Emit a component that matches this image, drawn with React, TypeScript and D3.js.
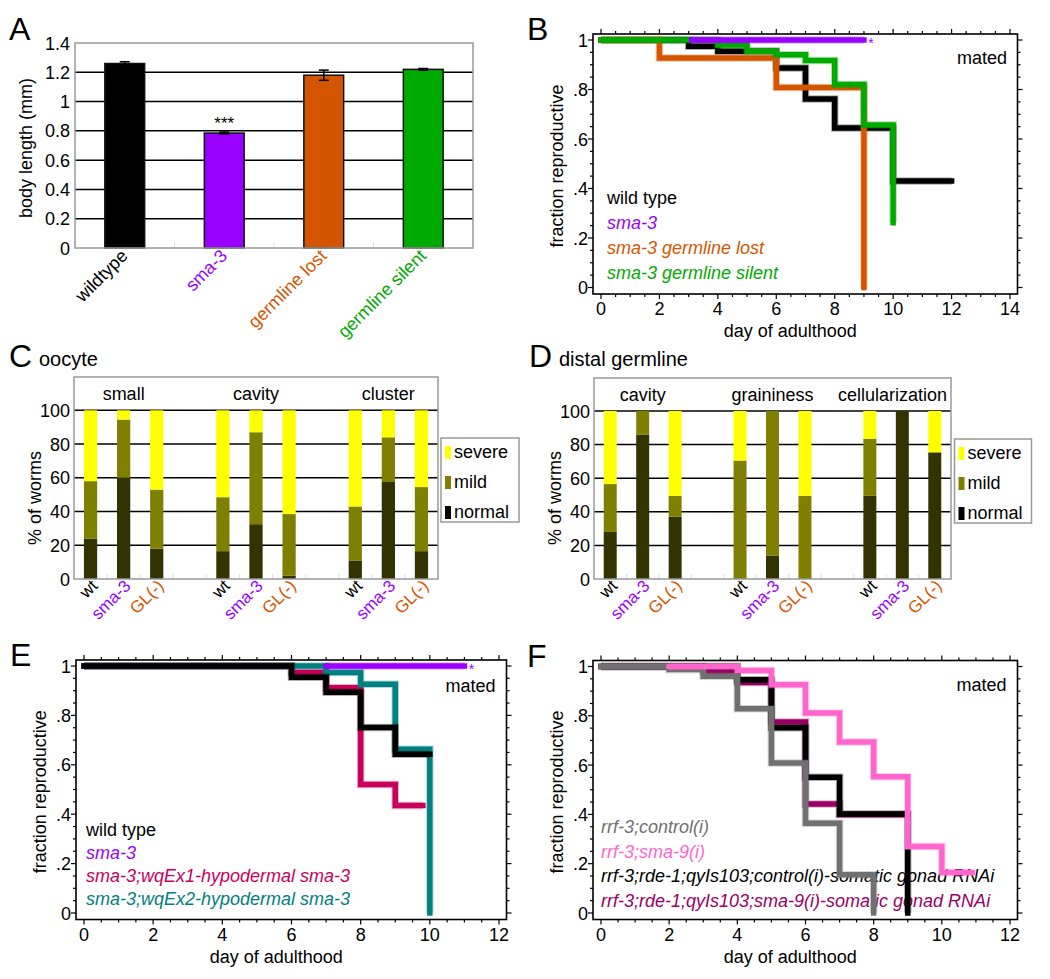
import React, { useEffect, useRef } from 'react';
import * as d3 from 'd3';

type Pt = [number, number];

const FONT = '"Liberation Sans", Arial, Helvetica, sans-serif';

// A: body length
const bodyGenotypes = ['wildtype', 'sma-3', 'germline lost', 'germline silent'];
const bodyLength = [1.26, 0.785, 1.18, 1.22];
const bodyLengthErr = [0.012, 0.006, 0.035, 0.006];
const bodyColors = ['#000000', '#9900ff', '#d45500', '#00aa00'];
const bodyTicks = [0, 0.2, 0.4, 0.6, 0.8, 1, 1.2, 1.4];

// C / D: scored phenotypes (% of worms)
const scoredGenotypes = ['wt', 'sma-3', 'GL(-)'];
const scoredColors = ['#000000', '#9900ff', '#d45500'];
const phenotypes = ['normal', 'mild', 'severe'];
const phenotypeColors = ['#333300', '#808000', '#ffff00'];
const percentTicks = [0, 20, 40, 60, 80, 100];

const oocyteGroups = ['small', 'cavity', 'cluster'];
const oocyteNormal = [24, 60, 18, 16.5, 32.5, 2, 11, 57.5, 16.5];
const oocyteMild = [34, 34.5, 35, 32, 54.5, 36.5, 32, 26.5, 38];
const oocyteSevere = [42, 5.5, 47, 51.5, 13, 61.5, 57, 16, 45.5];

const germlineGroups = ['cavity', 'graininess', 'cellularization'];
const germlineNormal = [28, 86, 37, 0, 14, 0, 49.5, 100, 75];
const germlineMild = [28.5, 14, 12.5, 70.5, 86, 49.5, 34, 0, 0.5];
const germlineSevere = [43.5, 0, 50.5, 29.5, 0, 50.5, 16.5, 0, 24.5];

// B: fraction reproductive, mated
const bWildType: Pt[] = [[0, 1], [3, 0.975], [4, 0.955], [6, 0.887], [7, 0.762], [8, 0.644], [10, 0.43], [12, 0.43]];
const bSma3: Pt[] = [[3.1, 1], [9, 1]];
const bGermlineLost: Pt[] = [[0, 1], [2, 0.927], [6, 0.808], [9, 0]];
const bGermlineSilent: Pt[] = [[0, 1], [4, 0.98], [5, 0.955], [6, 0.94], [7, 0.917], [8, 0.82], [9, 0.657], [10, 0.262]];

// E
const eWildType: Pt[] = [[0, 1], [6, 0.954], [7, 0.894], [8, 0.751], [9, 0.643], [10, 0.643]];
const eSma3: Pt[] = [[7, 1], [11, 1]];
const eWqEx1: Pt[] = [[0, 1], [6, 0.974], [7, 0.912], [8, 0.52], [9, 0.435], [9.8, 0.435]];
const eWqEx2: Pt[] = [[0, 1], [7, 0.974], [8, 0.926], [9, 0.663], [10, 0]];

// F
const fControl: Pt[] = [[0, 1], [2, 0.988], [3, 0.96], [4, 0.829], [5, 0.609], [6, 0.364], [7, 0.155], [8, 0]];
const fSma9: Pt[] = [[2, 1], [4, 0.984], [5, 0.926], [6, 0.811], [7, 0.694], [8, 0.553], [9, 0.27], [10, 0.164], [10.9, 0.164]];
const fGonadControl: Pt[] = [[0, 1], [4, 0.946], [5, 0.752], [6, 0.551], [7, 0.402], [9, 0]];
const fGonadSma9: Pt[] = [[0, 1], [3, 0.98], [4, 0.935], [5, 0.775], [6, 0.442], [7, 0.4], [9, 0.4]];

interface Series { name: string; data: Pt[]; color: string; italic: boolean; }
interface Frame { l: number; t: number; r: number; b: number; }

const label = (g: any, s: string, x: number, y: number, size: number, anchor = 'start', fill = '#000', italic = false) =>
  g.append('text')
    .attr('x', x).attr('y', y)
    .attr('font-size', size)
    .attr('text-anchor', anchor)
    .attr('fill', fill)
    .attr('font-style', italic ? 'italic' : 'normal')
    .text(s);

const yTitle = (g: any, s: string, x: number, cy: number) =>
  g.append('text')
    .attr('transform', `translate(${x},${cy}) rotate(-90)`)
    .attr('text-anchor', 'middle')
    .attr('font-size', 18)
    .text(s);

function drawBodyLength(svg: any) {
  const f: Frame = { l: 75, t: 43, r: 473, b: 248 };
  const g = svg.append('g');
  const x = d3.scaleBand().domain(bodyGenotypes).range([f.l, f.r]).paddingInner(0.6).paddingOuter(0.3);
  const y = d3.scaleLinear().domain([0, 1.4]).range([f.b, f.t]);
  const bw = x.bandwidth();

  g.selectAll('line.grid').data(bodyTicks.filter(t => t > 0 && t < 1.4)).enter().append('line')
    .attr('x1', f.l).attr('x2', f.r)
    .attr('y1', (d: number) => y(d)).attr('y2', (d: number) => y(d))
    .attr('stroke', '#000').attr('stroke-width', 1.5);

  bodyGenotypes.slice(0, -1).forEach(d => {
    const bx = (x(d) as number) + bw / 2 + x.step() / 2;
    g.append('line').attr('x1', bx).attr('x2', bx).attr('y1', f.b - 5).attr('y2', f.b)
      .attr('stroke', '#ddd').attr('stroke-width', 1);
  });

  g.selectAll('rect.bar').data(bodyGenotypes).enter().append('rect')
    .attr('x', (d: string) => x(d))
    .attr('y', (_: string, i: number) => y(bodyLength[i]))
    .attr('width', bw)
    .attr('height', (_: string, i: number) => f.b - y(bodyLength[i]))
    .attr('fill', (_: string, i: number) => bodyColors[i])
    .attr('stroke', '#111').attr('stroke-width', 1.5);

  bodyGenotypes.forEach((d, i) => {
    const cx = (x(d) as number) + bw / 2;
    const lo = y(bodyLength[i] - bodyLengthErr[i]);
    const hi = y(bodyLength[i] + bodyLengthErr[i]);
    g.append('line').attr('x1', cx).attr('x2', cx).attr('y1', lo).attr('y2', hi).attr('stroke', '#000').attr('stroke-width', 1.5);
    [lo, hi].forEach(v => g.append('line').attr('x1', cx - 5).attr('x2', cx + 5).attr('y1', v).attr('y2', v)
      .attr('stroke', '#000').attr('stroke-width', 1.5));
    label(g, d, cx + 4, f.b + 9, 18, 'end', bodyColors[i])
      .attr('transform', `rotate(-45,${cx + 4},${f.b + 9})`);
  });

  const sx = (x('sma-3') as number) + bw / 2;
  label(g, '***', sx, y(bodyLength[1] + bodyLengthErr[1]) - 3, 17, 'middle');

  g.append('rect').attr('x', f.l).attr('y', f.t).attr('width', f.r - f.l).attr('height', f.b - f.t)
    .attr('fill', 'none').attr('stroke', '#999').attr('stroke-width', 1.5);

  bodyTicks.forEach(t => label(g, String(t), f.l - 5, y(t) + 6.5, 18, 'end'));
  yTitle(g, 'body length (mm)', 32, 148);
  label(g, 'A', 9, 40, 32);
}

function drawStacked(svg: any, f: Frame & { y100: number }, groups: string[], normal: number[], mild: number[],
  severe: number[], legendBox: [number, number, number, number], letter: string, title: string) {
  const g = svg.append('g');
  const slots: string[] = [];
  groups.forEach((grp, gi) => {
    if (gi > 0) slots.push('gap' + gi);
    scoredGenotypes.forEach(gt => slots.push(grp + '|' + gt));
  });
  const x = d3.scaleBand().domain(slots).range([f.l, f.r]).paddingInner(0.6).paddingOuter(0.3);
  const y = d3.scaleLinear().domain([0, 100]).range([f.b, f.y100]);
  const bw = x.bandwidth();

  const rows = groups.flatMap((grp, gi) => scoredGenotypes.map((gt, i) => ({
    slot: grp + '|' + gt,
    normal: normal[gi * 3 + i],
    mild: mild[gi * 3 + i],
    severe: severe[gi * 3 + i],
  })));

  percentTicks.filter(t => t > 0).forEach(t => g.append('line')
    .attr('x1', f.l).attr('x2', f.r).attr('y1', y(t)).attr('y2', y(t))
    .attr('stroke', '#000').attr('stroke-width', 1.5));

  slots.slice(0, -1).forEach(s => {
    const bx = (x(s) as number) + bw / 2 + x.step() / 2;
    g.append('line').attr('x1', bx).attr('x2', bx).attr('y1', f.b - 5).attr('y2', f.b)
      .attr('stroke', '#ddd').attr('stroke-width', 1);
  });

  const stacked = d3.stack<any>().keys(phenotypes)(rows);
  stacked.forEach((layer: any, li: number) => {
    g.selectAll(null).data(layer).enter().append('rect')
      .attr('x', (d: any) => x(d.data.slot))
      .attr('y', (d: any) => y(d[1]))
      .attr('width', bw)
      .attr('height', (d: any) => Math.max(0, y(d[0]) - y(d[1])))
      .attr('fill', phenotypeColors[li]);
  });

  g.append('rect').attr('x', f.l).attr('y', f.t).attr('width', f.r - f.l).attr('height', f.b - f.t)
    .attr('fill', 'none').attr('stroke', '#999').attr('stroke-width', 1.5);

  groups.forEach(grp => {
    const cx = (x(grp + '|sma-3') as number) + bw / 2;
    const t = label(g, grp, cx, f.t + 23, 18, 'middle');
    const w = (t.node() as SVGTextElement).getComputedTextLength();
    if (cx + w / 2 > f.r - 4) t.attr('x', f.r - 4 - w / 2);
  });

  rows.forEach(r => {
    const i = scoredGenotypes.indexOf(r.slot.split('|')[1]);
    const ax = (x(r.slot) as number) + bw / 2 + 8;
    const ay = f.b + 8;
    label(g, scoredGenotypes[i], ax, ay, 17, 'end', scoredColors[i])
      .attr('transform', `rotate(-45,${ax},${ay})`);
  });

  percentTicks.forEach(t => label(g, String(t), f.l - 4, y(t) + 6.5, 18, 'end'));

  const [lx, ly, lw, lh] = legendBox;
  g.append('rect').attr('x', lx).attr('y', ly).attr('width', lw).attr('height', lh)
    .attr('fill', '#fff').attr('stroke', '#999').attr('stroke-width', 1.5);
  const order = [2, 1, 0];
  order.forEach((pi, k) => {
    const base = ly + 20 + k * 30;
    g.append('rect').attr('x', lx + 4).attr('y', base - 12).attr('width', 6).attr('height', 13)
      .attr('fill', pi === 0 ? '#000' : phenotypeColors[pi]);
    label(g, phenotypes[pi], lx + 13, base, 18);
  });

  yTitle(g, '% of worms', f.l - 33, 498);
  label(g, letter, f.l - 65, 366.7, 32);
  label(g, title, f.l - 35, 366, 20);
}

function drawSurvival(svg: any, f: Frame, xMax: number, series: Series[], legend: Series[],
  legendX: number, legendY: number, legendDy: number, mated: Pt, star: Series | null, letter: string) {
  const g = svg.append('g');
  const x = d3.scaleLinear().domain([0, xMax]).range([f.l + 8, f.r - 7.5]);
  const y = d3.scaleLinear().domain([0, 1]).range([f.b - 6.5, f.t + 6]);

  const xTicks = d3.range(0, xMax + 1e-9, 0.5);
  const yTicks = d3.range(0, 1 + 1e-9, 0.05);
  xTicks.forEach(v => {
    const len = Math.abs(v % 2) < 1e-9 ? 5 : 3;
    [[f.b, f.b + len], [f.t, f.t - len]].forEach(([a, b]) => g.append('line')
      .attr('x1', x(v)).attr('x2', x(v)).attr('y1', a).attr('y2', b)
      .attr('stroke', '#000').attr('stroke-width', 1.2));
  });
  yTicks.forEach(v => {
    const major = Math.round(v * 100) % 20 === 0;
    const len = major ? 5 : 3;
    [[f.l, f.l - len], [f.r, f.r + len]].forEach(([a, b]) => g.append('line')
      .attr('x1', a).attr('x2', b).attr('y1', y(v)).attr('y2', y(v))
      .attr('stroke', '#000').attr('stroke-width', 1.2));
  });

  g.append('rect').attr('x', f.l).attr('y', f.t).attr('width', f.r - f.l).attr('height', f.b - f.t)
    .attr('fill', '#fff').attr('stroke', '#000').attr('stroke-width', 1.6);

  legend.forEach((s, i) => label(g, s.name, legendX, legendY + i * legendDy, 18, 'start', s.color, s.italic));

  const line = d3.line<Pt>().x(d => x(d[0])).y(d => y(d[1])).curve(d3.curveStepAfter);
  series.forEach(s => {
    g.append('path').attr('d', line(s.data)).attr('fill', 'none')
      .attr('stroke', s.color).attr('stroke-opacity', 0.3).attr('stroke-width', 7.5);
    g.append('path').attr('d', line(s.data)).attr('fill', 'none')
      .attr('stroke', s.color).attr('stroke-width', 5.5).attr('stroke-linecap', 'square');
  });

  if (star) {
    const last = star.data[star.data.length - 1];
    label(g, '*', x(last[0]) + 7, y(last[1]) + 8, 14, 'middle', star.color);
  }

  label(g, 'mated', mated[0], mated[1], 18, 'end');

  d3.range(0, xMax + 1e-9, 2).forEach(v => label(g, String(v), x(v), f.b + 21, 18, 'middle'));
  d3.range(0, 1 + 1e-9, 0.2).forEach(v => {
    const s = v < 1e-9 ? '0' : v > 0.999 ? '1' : '.' + Math.round(v * 10);
    label(g, s, f.l - 5, y(v) + 6.5, 18, 'end');
  });

  label(g, 'day of adulthood', (f.l + f.r) / 2 - 15, f.b + 43, 18, 'middle');
  yTitle(g, 'fraction reproductive', f.l - 30, (f.t + f.b) / 2 + 2);
  label(g, letter, f.l - 66, f.t + 6, 32);
}

const App = () => {
  const ref = useRef<SVGSVGElement>(null);

  useEffect(() => {
    const svg = d3.select(ref.current);
    svg.selectAll('*').remove();
    svg.attr('font-family', FONT);
    svg.append('rect').attr('width', 1050).attr('height', 979).attr('fill', '#fff');

    drawBodyLength(svg);

    const B: Series[] = [
      { name: 'wild type', data: bWildType, color: '#000000', italic: false },
      { name: 'sma-3', data: bSma3, color: '#9900ff', italic: true },
      { name: 'sma-3 germline lost', data: bGermlineLost, color: '#d45500', italic: true },
      { name: 'sma-3 germline silent', data: bGermlineSilent, color: '#00aa00', italic: true },
    ];
    drawSurvival(svg, { l: 593, t: 34, r: 1017.5, b: 294 }, 14, [B[0], B[2], B[3], B[1]], B,
      607, 204, 25, [1007, 64], B[1], 'B');

    drawStacked(svg, { l: 74, t: 377, r: 438, b: 579, y100: 410.3 }, oocyteGroups, oocyteNormal, oocyteMild,
      oocyteSevere, [441, 438, 78, 84], 'C', 'oocyte');
    drawStacked(svg, { l: 594, t: 378, r: 951, b: 579, y100: 411 }, germlineGroups, germlineNormal, germlineMild,
      germlineSevere, [954.5, 439, 77, 84], 'D', 'distal germline');

    const E: Series[] = [
      { name: 'wild type', data: eWildType, color: '#000000', italic: false },
      { name: 'sma-3', data: eSma3, color: '#9900ff', italic: true },
      { name: 'sma-3;wqEx1-hypodermal sma-3', data: eWqEx1, color: '#c8005a', italic: true },
      { name: 'sma-3;wqEx2-hypodermal sma-3', data: eWqEx2, color: '#008080', italic: true },
    ];
    drawSurvival(svg, { l: 76, t: 660, r: 506.5, b: 919.5 }, 12, [E[2], E[3], E[0], E[1]], E,
      86, 836, 23, [495.5, 692], E[1], 'E');

    const F: Series[] = [
      { name: 'rrf-3;control(i)', data: fControl, color: '#707070', italic: true },
      { name: 'rrf-3;sma-9(i)', data: fSma9, color: '#ff66cc', italic: true },
      { name: 'rrf-3;rde-1;qyIs103;control(i)-somatic gonad RNAi', data: fGonadControl, color: '#000000', italic: true },
      { name: 'rrf-3;rde-1;qyIs103;sma-9(i)-somatic gonad RNAi', data: fGonadSma9, color: '#990066', italic: true },
    ];
    drawSurvival(svg, { l: 593, t: 660.5, r: 1017.5, b: 919.5 }, 12, [F[3], F[2], F[0], F[1]], F,
      601, 833, 24.5, [1006.5, 691], null, 'F');
  }, []);

  return (
    <svg ref={ref} width={1050} height={979} style={{ position: 'absolute', left: 0, top: 0 }} />
  );
};

export default App;
